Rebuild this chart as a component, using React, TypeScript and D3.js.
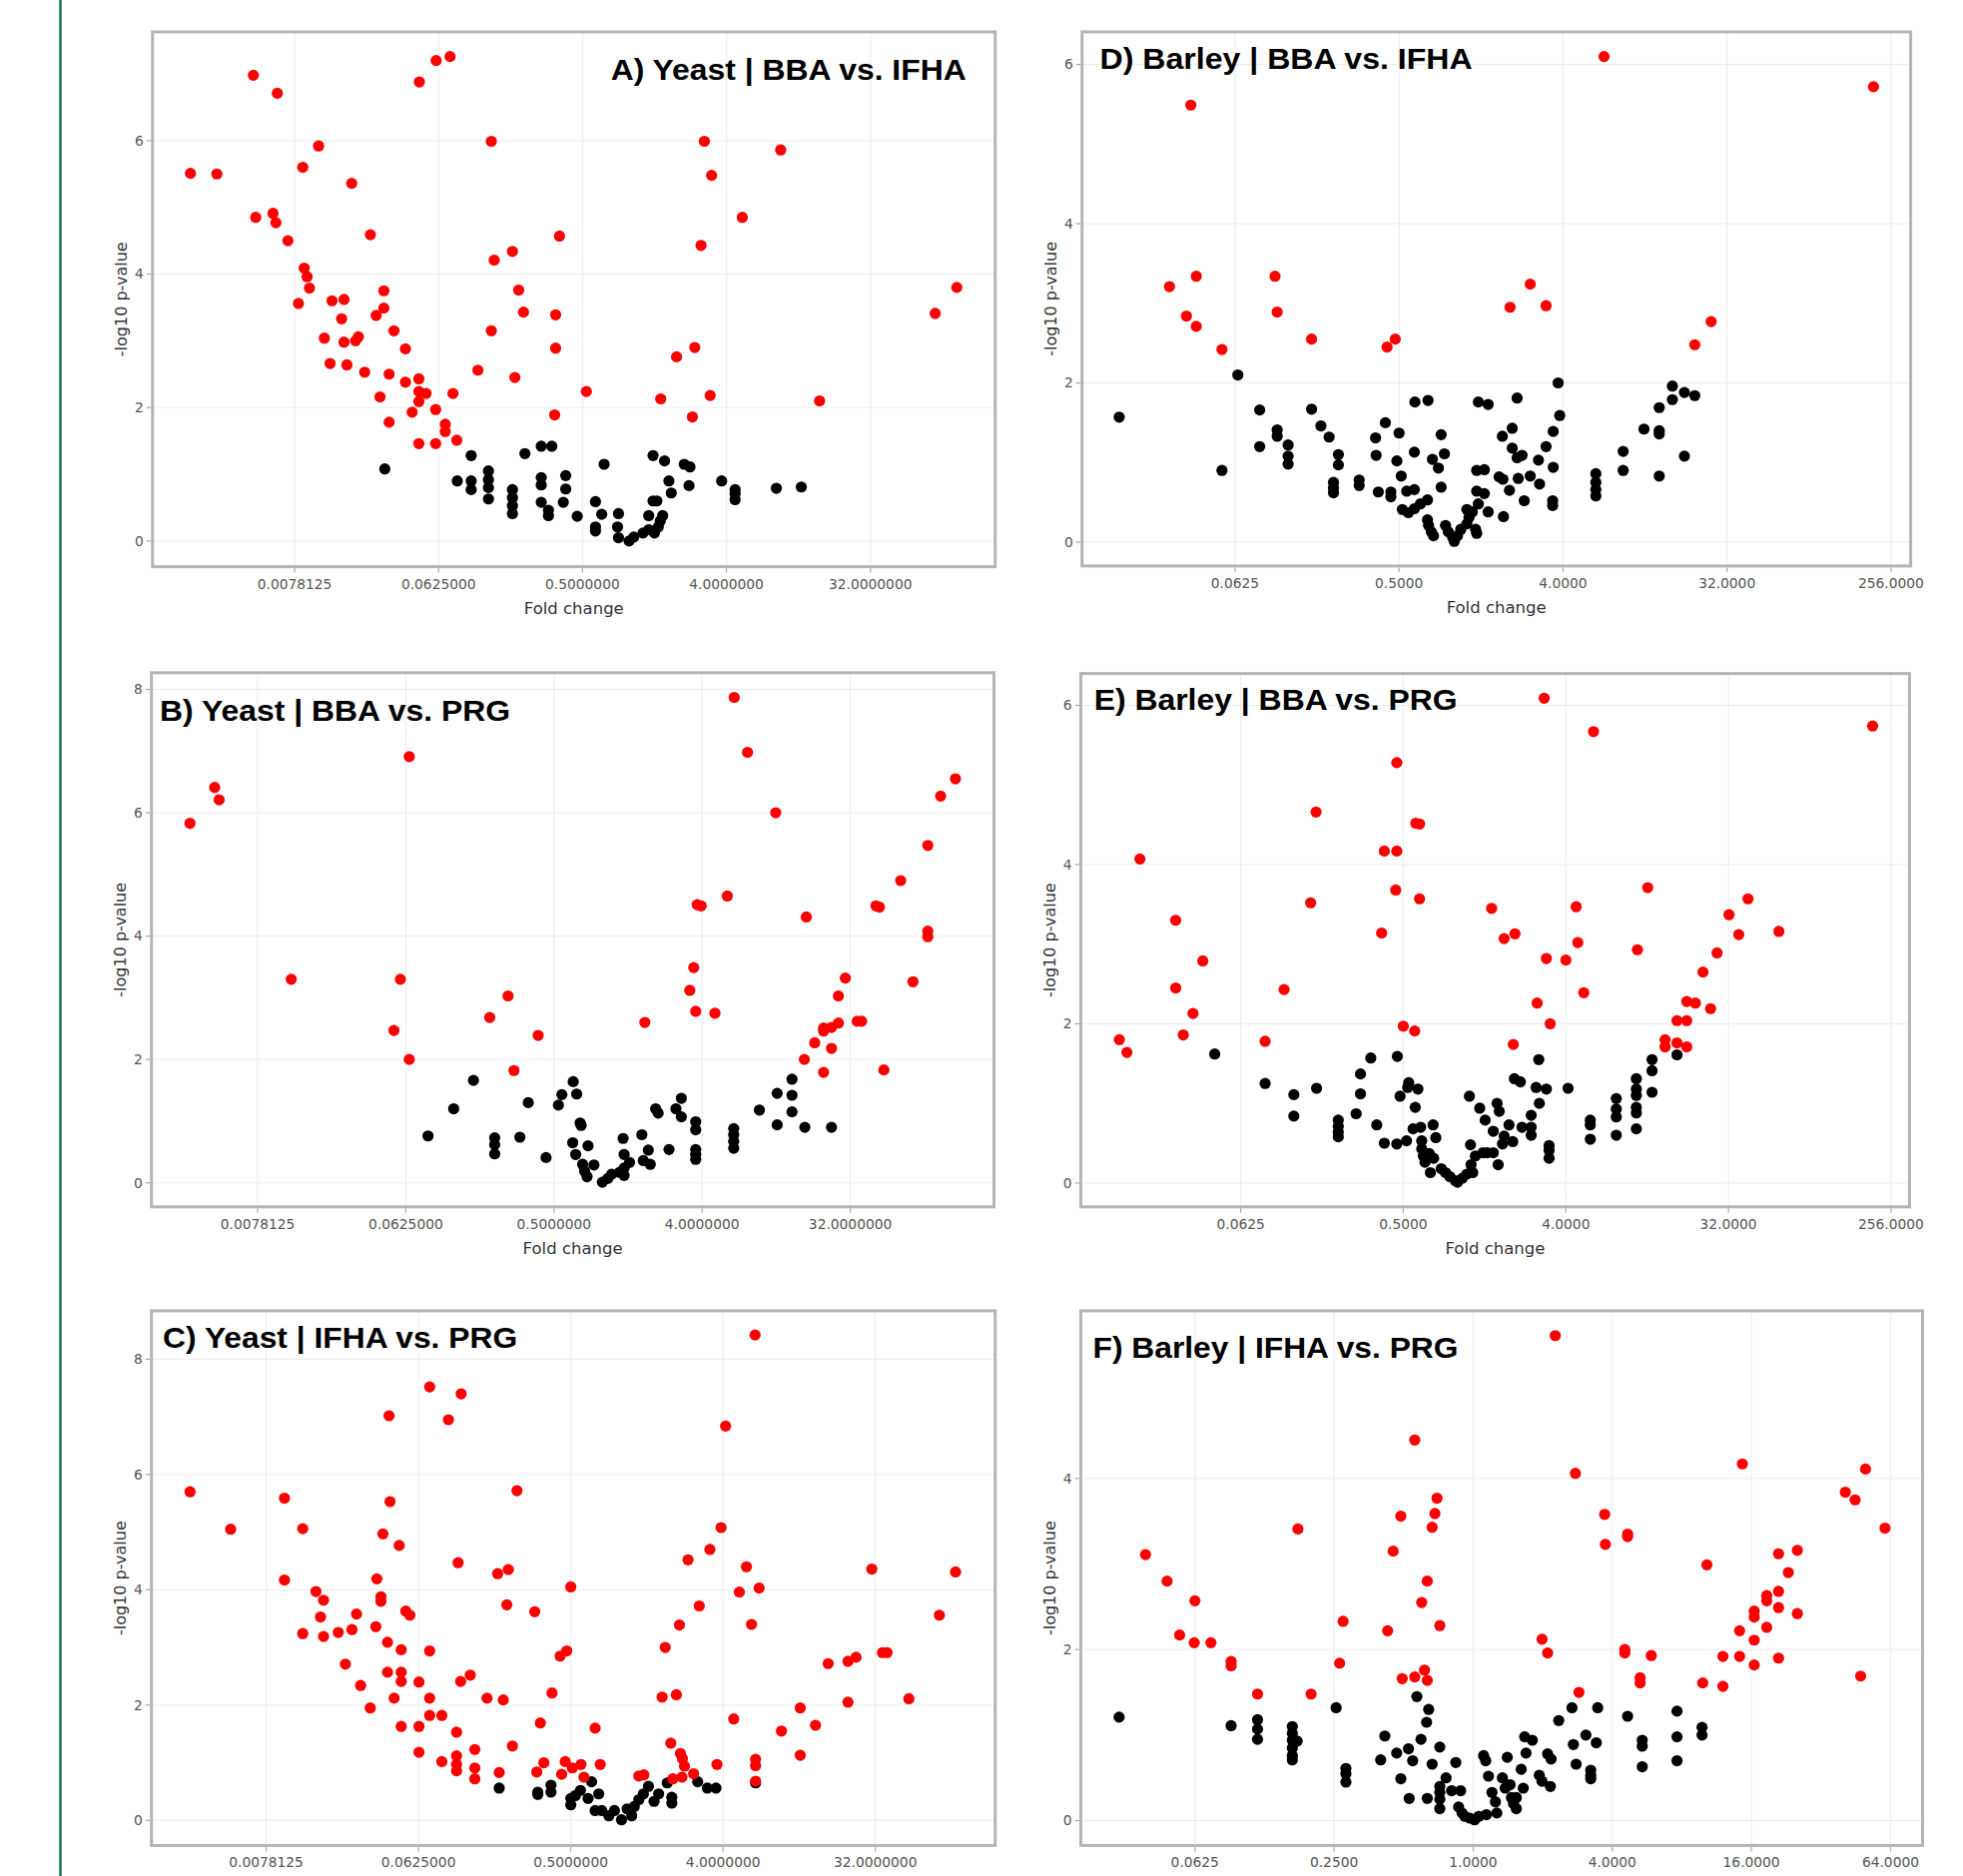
import React from "react";
import * as d3 from "d3";

// ---------- tick labels ----------
const yeastTicks = [0.0078125, 0.0625, 0.5, 4, 32];
const yeastTickLabels = ["0.0078125", "0.0625000", "0.5000000", "4.0000000", "32.0000000"];
const barleyTicks = [0.0625, 0.5, 4, 32, 256];
const barleyTickLabels = ["0.0625", "0.5000", "4.0000", "32.0000", "256.0000"];
const barleyFTicks = [0.0625, 0.25, 1, 4, 16, 64];
const barleyFTickLabels = ["0.0625", "0.2500", "1.0000", "4.0000", "16.0000", "64.0000"];
const yTicksTo6 = [0, 2, 4, 6];
const yTicksTo8 = [0, 2, 4, 6, 8];
const yTicksTo4 = [0, 2, 4];

const panelTitles = [
  "A) Yeast | BBA vs. IFHA",
  "D) Barley | BBA vs. IFHA",
  "B) Yeast | BBA vs. PRG",
  "E) Barley | BBA vs. PRG",
  "C) Yeast | IFHA vs. PRG",
  "F) Barley | IFHA vs. PRG",
];

// ---------- data: [log2 fold change, -log10 p-value] ----------
const aSig = [[-9.17,5.51],[-8.62,5.50],[-7.86,6.98],[-7.36,6.71],[-7.81,4.85],[-7.45,4.91],[-7.39,4.77],[-7.14,4.50],[-6.50,5.92],[-6.83,5.60],[-5.81,5.36],[-6.80,4.09],[-6.74,3.96],[-6.69,3.79],[-6.92,3.56],[-6.22,3.60],[-5.97,3.62],[-6.02,3.33],[-6.38,3.04],[-5.97,2.98],[-5.73,3.00],[-5.67,3.06],[-6.26,2.66],[-5.91,2.64],[-5.54,2.53],[-5.42,4.59],[-5.14,3.75],[-5.14,3.49],[-5.30,3.38],[-4.93,3.15],[-4.69,2.88],[-5.03,2.50],[-5.22,2.16],[-5.03,1.78],[-4.69,2.38],[-4.41,2.43],[-4.41,2.24],[-4.26,2.21],[-4.41,2.09],[-4.55,1.93],[-4.06,1.97],[-3.70,2.21],[-4.41,1.46],[-4.06,1.46],[-3.86,1.75],[-3.86,1.64],[-3.62,1.51],[-4.40,6.88],[-4.05,7.20],[-3.76,7.26],[-2.90,5.99],[-2.84,4.21],[-2.46,4.34],[-2.33,3.76],[-2.23,3.43],[-2.90,3.15],[-3.18,2.56],[-2.41,2.45],[-1.56,3.39],[-1.56,2.89],[-1.58,1.89],[-1.48,4.57],[-0.92,2.24],[1.54,5.99],[1.69,5.48],[1.47,4.43],[2.33,4.85],[3.13,5.86],[1.34,2.90],[0.96,2.76],[0.63,2.13],[1.66,2.18],[1.29,1.86],[3.94,2.10],[6.35,3.41],[6.80,3.80]];
const aNs = [[-5.12,1.08],[-3.32,1.28],[-3.61,0.90],[-3.32,0.90],[-3.32,0.77],[-2.96,1.05],[-2.96,0.92],[-2.96,0.80],[-2.96,0.63],[-2.46,0.77],[-2.46,0.65],[-2.46,0.53],[-2.46,0.41],[-2.20,1.31],[-1.86,1.42],[-1.64,1.42],[-1.86,0.95],[-1.86,0.84],[-1.86,0.58],[-1.71,0.46],[-1.71,0.38],[-1.40,0.58],[-1.35,0.98],[-1.35,0.78],[-1.11,0.37],[-0.73,0.59],[-0.73,0.21],[-0.73,0.15],[-0.60,0.40],[-0.55,1.15],[-0.27,0.21],[-0.25,0.41],[-0.25,0.05],[-0.03,0.00],[0.07,0.06],[0.26,0.12],[0.38,0.17],[0.38,0.38],[0.47,0.60],[0.55,0.60],[0.47,1.28],[0.71,1.20],[0.80,0.90],[0.50,0.12],[0.58,0.21],[0.62,0.30],[0.67,0.38],[0.85,0.72],[1.12,1.15],[1.24,1.11],[1.22,0.83],[1.90,0.90],[2.18,0.77],[2.18,0.71],[2.18,0.62],[3.04,0.79],[3.56,0.81]];

const dSig = [[-4.81,5.49],[2.75,6.10],[7.68,5.72],[-5.20,3.21],[-4.71,3.34],[-4.89,2.84],[-4.71,2.71],[-4.24,2.42],[-3.27,3.34],[-3.23,2.89],[-2.60,2.55],[-1.22,2.45],[-1.07,2.55],[1.03,2.95],[1.40,3.24],[1.69,2.97],[4.71,2.77],[4.41,2.48]];
const dNs = [[-6.12,1.57],[-3.95,2.10],[-4.24,0.90],[-3.55,1.66],[-3.55,1.20],[-3.23,1.41],[-3.23,1.33],[-3.03,1.22],[-3.03,1.08],[-3.03,0.98],[-2.60,1.67],[-2.43,1.46],[-2.28,1.32],[-2.11,1.10],[-2.11,0.97],[-2.20,0.75],[-2.20,0.68],[-2.20,0.62],[-1.73,0.78],[-1.73,0.71],[-1.43,1.31],[-1.42,1.09],[-1.38,0.63],[-1.25,1.50],[-1.15,0.63],[-1.15,0.57],[-1.00,1.37],[-1.04,1.02],[-0.96,0.83],[-0.86,0.64],[-0.72,1.13],[-0.71,1.76],[-0.47,1.78],[-0.94,0.41],[-0.83,0.37],[-0.72,0.42],[-0.61,0.48],[-0.72,0.66],[-0.48,0.53],[-0.39,1.04],[-0.28,0.93],[-0.23,1.35],[-0.17,1.11],[-0.23,0.69],[-0.48,0.28],[-0.46,0.21],[-0.41,0.13],[-0.37,0.08],[-0.15,0.21],[-0.10,0.13],[-0.02,0.06],[0.01,0.01],[0.07,0.08],[0.13,0.16],[0.24,0.23],[0.28,0.31],[0.34,0.38],[0.40,0.16],[0.42,0.11],[0.24,0.41],[0.42,0.90],[0.56,0.91],[0.42,0.64],[0.56,0.61],[0.45,0.48],[0.63,0.38],[0.45,1.76],[0.63,1.73],[0.91,0.32],[0.83,0.82],[0.90,0.79],[0.89,1.33],[1.02,0.65],[1.07,1.43],[1.07,1.18],[1.16,1.81],[1.16,1.06],[1.25,1.09],[1.18,0.80],[1.29,0.52],[1.40,0.83],[1.55,1.03],[1.57,0.73],[1.69,1.20],[1.82,1.39],[1.82,0.94],[1.81,0.52],[1.81,0.46],[1.91,2.00],[1.94,1.59],[2.60,0.86],[2.60,0.75],[2.60,0.66],[2.60,0.58],[3.10,1.14],[3.10,0.90],[3.48,1.42],[3.76,1.69],[3.76,1.40],[3.76,1.36],[3.76,0.83],[4.00,1.96],[4.00,1.79],[4.22,1.88],[4.41,1.84],[4.22,1.08]];

const bSig = [[-8.37,5.83],[-7.87,6.41],[-7.78,6.21],[-6.32,3.30],[-3.93,6.91],[-4.11,3.30],[-4.24,2.47],[-3.93,2.00],[-2.30,2.68],[-1.93,3.03],[-1.32,2.39],[-1.81,1.82],[0.84,2.60],[1.83,3.49],[1.75,3.12],[1.87,2.78],[2.26,2.75],[1.90,4.51],[1.98,4.49],[2.51,4.65],[2.65,7.87],[2.92,6.98],[3.49,6.00],[4.11,4.31],[4.07,2.00],[4.28,2.27],[4.46,1.79],[4.46,2.51],[4.46,2.46],[4.62,2.52],[4.62,2.18],[4.76,2.59],[4.76,3.03],[4.90,3.32],[5.14,2.62],[5.23,2.62],[5.52,4.49],[5.59,4.47],[5.68,1.83],[6.02,4.90],[6.27,3.26],[6.57,5.47],[6.57,4.08],[6.57,3.99],[6.83,6.27],[7.13,6.55]];
const bNs = [[-3.55,0.76],[-3.03,1.20],[-2.63,1.66],[-2.20,0.73],[-2.20,0.62],[-2.20,0.47],[-1.69,0.74],[-1.52,1.30],[-1.16,0.41],[-0.91,1.26],[-0.84,1.43],[-0.61,1.64],[-0.54,1.44],[-0.47,0.97],[-0.45,0.93],[-0.62,0.65],[-0.56,0.46],[-0.31,0.60],[-0.42,0.30],[-0.38,0.19],[-0.33,0.10],[-0.19,0.29],[-0.02,0.01],[0.09,0.07],[0.17,0.14],[0.33,0.17],[0.42,0.12],[0.42,0.24],[0.40,0.72],[0.42,0.46],[0.53,0.33],[0.78,0.78],[0.81,0.36],[0.91,0.53],[0.95,0.30],[1.06,1.20],[1.11,1.13],[1.33,0.54],[1.47,1.20],[1.58,1.37],[1.58,1.07],[1.87,0.99],[1.87,0.86],[1.87,0.54],[1.87,0.46],[1.87,0.38],[2.64,0.88],[2.64,0.78],[2.64,0.67],[2.64,0.56],[3.16,1.18],[3.52,1.45],[3.52,0.94],[3.82,1.68],[3.82,1.42],[3.82,1.15],[4.08,0.90],[4.62,0.90]];

const eSig = [[-6.24,1.80],[-6.10,1.64],[-5.86,4.07],[-5.20,3.30],[-5.20,2.45],[-4.70,2.79],[-4.88,2.13],[-5.06,1.86],[-3.55,1.78],[-3.20,2.43],[-2.71,3.52],[-2.61,4.66],[-1.40,3.14],[-1.35,4.17],[-1.12,4.17],[-1.14,3.68],[-1.12,5.28],[-0.77,4.52],[-0.70,4.51],[-0.70,3.57],[-1.00,1.97],[-0.79,1.91],[0.63,3.45],[0.86,3.07],[1.06,3.13],[1.03,1.74],[1.47,2.26],[1.64,2.82],[1.71,2.00],[1.60,6.09],[2.00,2.80],[2.19,3.47],[2.22,3.02],[2.33,2.39],[2.51,5.67],[3.32,2.93],[3.51,3.71],[3.83,1.80],[3.83,1.71],[4.05,2.04],[4.05,1.76],[4.23,2.04],[4.23,1.71],[4.23,2.28],[4.39,2.26],[4.53,2.65],[4.67,2.19],[4.79,2.89],[5.01,3.37],[5.19,3.12],[5.36,3.57],[5.93,3.16],[7.66,5.74]];
const eNs = [[-4.48,1.62],[-3.55,1.25],[-3.02,1.11],[-3.02,0.84],[-2.60,1.19],[-2.20,0.79],[-2.20,0.71],[-2.20,0.64],[-2.20,0.58],[-1.87,0.87],[-1.79,1.37],[-1.79,1.12],[-1.60,1.57],[-1.49,0.73],[-1.35,0.50],[-1.11,1.59],[-1.12,0.49],[-1.06,1.09],[-0.94,0.53],[-0.92,1.20],[-0.90,1.26],[-0.78,0.95],[-0.73,1.18],[-0.82,0.68],[-0.68,0.70],[-0.66,0.53],[-0.66,0.43],[-0.63,0.34],[-0.60,0.26],[-0.52,0.37],[-0.44,0.31],[-0.45,0.73],[-0.40,0.57],[-0.50,0.13],[-0.30,0.18],[-0.22,0.13],[-0.14,0.08],[-0.04,0.03],[0.00,0.01],[0.09,0.06],[0.17,0.11],[0.24,0.48],[0.22,1.09],[0.25,0.23],[0.28,0.13],[0.33,0.34],[0.41,0.94],[0.47,0.38],[0.51,0.79],[0.55,0.38],[0.66,0.65],[0.66,0.38],[0.73,1.00],[0.77,0.90],[0.75,0.23],[0.83,0.49],[0.86,0.59],[0.95,0.73],[1.02,0.52],[1.05,1.31],[1.16,1.27],[1.19,0.70],[1.36,0.85],[1.36,0.70],[1.36,0.60],[1.45,1.20],[1.50,1.55],[1.51,1.00],[1.64,1.18],[1.69,0.47],[1.69,0.41],[1.69,0.31],[2.04,1.19],[2.45,0.79],[2.45,0.73],[2.45,0.55],[2.93,1.06],[2.93,0.93],[2.93,0.83],[2.93,0.60],[3.30,1.31],[3.30,1.18],[3.30,1.10],[3.30,0.95],[3.30,0.88],[3.30,0.68],[3.59,1.55],[3.59,1.41],[3.59,1.14],[4.05,1.61]];

const cSig = [[-8.50,5.70],[-7.70,5.05],[-6.64,5.59],[-6.64,4.17],[-6.28,5.06],[-6.28,3.24],[-6.02,3.97],[-5.87,3.82],[-5.93,3.53],[-5.87,3.19],[-5.58,3.26],[-5.31,3.31],[-5.22,3.58],[-5.44,2.71],[-5.14,2.34],[-4.95,1.95],[-4.84,3.36],[-4.82,4.19],[-4.74,3.88],[-4.74,3.80],[-4.70,4.97],[-4.61,3.09],[-4.61,2.57],[-4.58,7.02],[-4.56,5.53],[-4.48,2.12],[-4.38,4.77],[-4.34,2.96],[-4.34,2.57],[-4.34,2.41],[-4.34,1.63],[-4.25,3.63],[-4.17,3.56],[-3.99,2.40],[-3.99,1.63],[-3.99,1.18],[-3.78,7.52],[-3.78,2.94],[-3.78,2.12],[-3.78,1.82],[-3.54,1.82],[-3.54,1.02],[-3.41,6.95],[-3.16,7.40],[-3.25,1.53],[-3.25,1.12],[-3.25,0.97],[-3.25,0.86],[-3.22,4.47],[-3.17,2.41],[-2.98,2.52],[-2.89,1.23],[-2.89,0.91],[-2.89,0.72],[-2.65,2.12],[-2.44,4.28],[-2.23,4.35],[-2.26,3.74],[-2.33,2.09],[-2.41,0.83],[-2.15,1.29],[-2.06,5.72],[-1.71,3.62],[-1.60,1.69],[-1.67,0.84],[-1.53,1.00],[-1.37,2.21],[-1.21,2.85],[-1.08,2.94],[-1.11,1.02],[-1.18,0.80],[-1.00,4.05],[-0.97,0.91],[-0.80,0.97],[-0.74,0.75],[-0.52,1.60],[-0.42,0.97],[0.34,0.77],[0.44,0.79],[0.80,2.14],[0.86,3.00],[1.08,2.18],[1.14,3.39],[0.97,1.34],[1.01,0.72],[1.16,1.16],[1.20,1.07],[1.24,0.94],[1.19,0.75],[1.31,4.52],[1.53,3.72],[1.42,0.81],[1.74,4.70],[1.88,0.97],[1.96,5.08],[2.05,6.84],[2.21,1.76],[2.32,3.96],[2.46,4.40],[2.56,3.40],[2.63,8.42],[2.71,4.03],[2.64,1.06],[2.64,0.95],[2.64,0.68],[3.15,1.55],[3.52,1.95],[3.52,1.13],[3.82,1.65],[4.07,2.72],[4.46,2.76],[4.62,2.83],[4.46,2.05],[4.93,4.36],[5.14,2.91],[5.23,2.91],[5.66,2.11],[6.26,3.56],[6.58,4.31]];
const cNs = [[-2.41,0.56],[-1.65,0.49],[-1.65,0.45],[-1.39,0.61],[-1.39,0.49],[-1.00,0.38],[-1.00,0.27],[-0.91,0.43],[-0.81,0.52],[-0.66,0.38],[-0.59,0.67],[-0.52,0.17],[-0.45,0.46],[-0.39,0.17],[-0.25,0.08],[-0.14,0.17],[0.00,0.01],[0.11,0.20],[0.20,0.08],[0.25,0.24],[0.34,0.36],[0.43,0.46],[0.53,0.59],[0.64,0.33],[0.73,0.46],[0.99,0.30],[0.99,0.40],[0.90,0.65],[1.50,0.67],[1.69,0.56],[1.86,0.56],[2.64,0.65]];

const fSig = [[-4.71,3.11],[-4.40,2.80],[-4.00,2.57],[-4.22,2.17],[-4.01,2.08],[-3.77,2.08],[-3.48,1.86],[-3.48,1.81],[-3.10,1.48],[-2.52,3.41],[-2.33,1.48],[-1.92,1.84],[-1.87,2.33],[-1.23,2.22],[-1.15,3.15],[-1.04,3.56],[-1.02,1.66],[-0.84,4.45],[-0.84,1.68],[-0.74,2.55],[-0.66,2.80],[-0.70,1.76],[-0.66,1.64],[-0.59,3.43],[-0.55,3.59],[-0.52,3.77],[-0.48,2.28],[1.18,5.67],[0.99,2.12],[1.07,1.96],[1.47,4.06],[1.52,1.50],[1.89,3.58],[1.90,3.23],[2.22,3.35],[2.22,3.32],[2.18,2.00],[2.18,1.96],[2.40,1.67],[2.40,1.61],[2.56,1.93],[3.30,1.61],[3.36,2.99],[3.59,1.92],[3.59,1.57],[3.83,1.92],[3.83,2.22],[3.87,4.17],[4.04,2.45],[4.04,2.38],[4.04,2.11],[4.04,1.82],[4.22,2.63],[4.22,2.57],[4.22,2.26],[4.39,3.12],[4.39,2.68],[4.39,2.49],[4.39,1.90],[4.53,2.90],[4.66,3.16],[4.66,2.42],[5.35,3.84],[5.49,3.75],[5.64,4.11],[5.57,1.69],[5.92,3.42]];
const fNs = [[-5.09,1.21],[-3.48,1.11],[-3.10,1.18],[-3.10,1.07],[-3.10,0.95],[-2.60,1.10],[-2.60,1.02],[-2.60,0.94],[-2.60,0.85],[-2.60,0.76],[-2.60,0.71],[-2.53,0.93],[-1.97,1.32],[-1.83,0.61],[-1.83,0.55],[-1.83,0.45],[-1.33,0.71],[-1.27,0.99],[-1.10,0.79],[-1.04,0.49],[-0.93,0.84],[-0.92,0.26],[-0.87,0.70],[-0.81,1.45],[-0.75,0.95],[-0.66,0.26],[-0.64,1.30],[-0.67,1.15],[-0.59,0.66],[-0.48,0.86],[-0.48,0.40],[-0.48,0.33],[-0.48,0.25],[-0.48,0.14],[-0.39,0.50],[-0.31,0.35],[-0.25,0.68],[-0.18,0.35],[-0.21,0.16],[-0.16,0.09],[-0.12,0.05],[-0.05,0.03],[0.02,0.01],[0.08,0.05],[0.19,0.07],[0.15,0.76],[0.18,0.70],[0.22,0.52],[0.27,0.33],[0.32,0.22],[0.34,0.09],[0.42,0.50],[0.46,0.38],[0.49,0.74],[0.53,0.42],[0.55,0.27],[0.58,0.20],[0.62,0.14],[0.62,0.27],[0.69,0.60],[0.72,0.38],[0.76,0.79],[0.74,0.98],[0.85,0.94],[0.95,0.53],[0.99,0.46],[1.11,0.40],[1.07,0.78],[1.12,0.72],[1.23,1.17],[1.42,1.32],[1.44,0.89],[1.48,0.66],[1.62,1.00],[1.69,0.59],[1.69,0.53],[1.69,0.49],[1.77,0.91],[1.79,1.32],[2.22,1.22],[2.43,0.94],[2.43,0.87],[2.43,0.63],[2.93,1.28],[2.93,0.98],[2.93,0.70],[3.29,1.09],[3.29,1.00]];

// ---------- layout ----------
type Panel = {
  title: string; sig: number[][]; ns: number[][];
  box: [number, number, number, number];
  xDom: [number, number]; yDom: [number, number];
  xTicks: number[]; xLabels: string[]; yTicks: number[];
  titleX: number; titleY: number; titleW: number;
  showXTitle: boolean;
};

const panels: Panel[] = [
  { title: panelTitles[0], sig: aSig, ns: aNs, box: [152.8, 31.9, 996.7, 567.6], xDom: [-9.96, 7.60], yDom: [-0.385, 7.63], xTicks: yeastTicks, xLabels: yeastTickLabels, yTicks: yTicksTo6, titleX: 611.7, titleY: 79.5, titleW: 356, showXTitle: true },
  { title: panelTitles[1], sig: dSig, ns: dNs, box: [1083.7, 31.9, 1913.6, 566.9], xDom: [-6.80, 8.36], yDom: [-0.30, 6.41], xTicks: barleyTicks, xLabels: barleyTickLabels, yTicks: yTicksTo6, titleX: 1101.6, titleY: 69.4, titleW: 373, showXTitle: true },
  { title: panelTitles[2], sig: bSig, ns: bNs, box: [151.7, 673.8, 995.5, 1208.8], xDom: [-9.15, 7.91], yDom: [-0.39, 8.27], xTicks: yeastTicks, xLabels: yeastTickLabels, yTicks: yTicksTo8, titleX: 160, titleY: 721.7, titleW: 351, showXTitle: true },
  { title: panelTitles[3], sig: eSig, ns: eNs, box: [1082.5, 674.6, 1912.4, 1208.8], xDom: [-6.95, 8.34], yDom: [-0.30, 6.40], xTicks: barleyTicks, xLabels: barleyTickLabels, yTicks: yTicksTo6, titleX: 1095.7, titleY: 711.4, titleW: 364, showXTitle: true },
  { title: panelTitles[4], sig: cSig, ns: cNs, box: [151.7, 1312.9, 996.7, 1848.4], xDom: [-9.26, 7.36], yDom: [-0.435, 8.84], xTicks: yeastTicks, xLabels: yeastTickLabels, yTicks: yTicksTo8, titleX: 163.1, titleY: 1349.9, titleW: 355, showXTitle: false },
  { title: panelTitles[5], sig: fSig, ns: fNs, box: [1082.5, 1312.9, 1925.5, 1848.4], xDom: [-5.64, 6.46], yDom: [-0.29, 5.96], xTicks: barleyFTicks, xLabels: barleyFTickLabels, yTicks: yTicksTo4, titleX: 1094.5, titleY: 1359.8, titleW: 366, showXTitle: false },
];

const FONT = "'DejaVu Sans', Verdana, sans-serif";

function VolcanoPanel({ p }: { p: Panel }) {
  const [x0, y0, x1, y1] = p.box;
  const x = d3.scaleLinear().domain(p.xDom).range([x0, x1]);
  const y = d3.scaleLinear().domain(p.yDom).range([y1, y0]);
  const clipId = "clip-" + p.title.charAt(0);
  return (
    <g>
      <defs>
        <clipPath id={clipId}>
          <rect x={x0} y={y0} width={x1 - x0} height={y1 - y0} />
        </clipPath>
      </defs>
      {p.xTicks.map((t, i) => (
        <line key={"gx" + i} x1={x(Math.log2(t))} x2={x(Math.log2(t))} y1={y0} y2={y1} stroke="#ececec" strokeWidth={1} />
      ))}
      {p.yTicks.map((t, i) => (
        <line key={"gy" + i} x1={x0} x2={x1} y1={y(t)} y2={y(t)} stroke="#ececec" strokeWidth={1} />
      ))}
      <g clipPath={`url(#${clipId})`}>
        {p.ns.map((d, i) => (
          <circle key={"n" + i} cx={x(d[0])} cy={y(d[1])} r={5.6} fill="#000000" />
        ))}
        {p.sig.map((d, i) => (
          <circle key={"s" + i} cx={x(d[0])} cy={y(d[1])} r={5.6} fill="#ff0000" />
        ))}
      </g>
      <rect x={x0} y={y0} width={x1 - x0} height={y1 - y0} fill="none" stroke="#b4b4b4" strokeWidth={3} />
      {p.xTicks.map((t, i) => (
        <g key={"xt" + i}>
          <line x1={x(Math.log2(t))} x2={x(Math.log2(t))} y1={y1 + 1.5} y2={y1 + 6} stroke="#aaaaaa" strokeWidth={1.2} />
          <text x={x(Math.log2(t))} y={y1 + 22} textAnchor="middle" fontFamily={FONT} fontSize={13.8} fill="#555555">{p.xLabels[i]}</text>
        </g>
      ))}
      {p.yTicks.map((t, i) => (
        <g key={"yt" + i}>
          <line x1={x0 - 6} x2={x0 - 1.5} y1={y(t)} y2={y(t)} stroke="#aaaaaa" strokeWidth={1.2} />
          <text x={x0 - 9} y={y(t)} dy="0.35em" textAnchor="end" fontFamily={FONT} fontSize={13.8} fill="#555555">{t}</text>
        </g>
      ))}
      {p.showXTitle && (
        <text x={(x0 + x1) / 2} y={y1 + 47} textAnchor="middle" fontFamily={FONT} fontSize={16.5} fill="#333333">Fold change</text>
      )}
      <text transform={`translate(${x0 - 31},${(y0 + y1) / 2}) rotate(-90)`} textAnchor="middle" dy="0.35em" fontFamily={FONT} fontSize={16} fill="#333333">-log10 p-value</text>
      <text x={p.titleX} y={p.titleY} fontFamily="'Liberation Sans', Arial, sans-serif" fontWeight="bold" fontSize={30} fill="#000000" textLength={p.titleW} lengthAdjust="spacingAndGlyphs">{p.title}</text>
    </g>
  );
}

export default function App() {
  return (
    <div style={{ position: "absolute", left: 0, top: 0 }}>
      <svg width={1966} height={1879} viewBox="0 0 1966 1879" style={{ display: "block", background: "#ffffff" }}>
        <rect x={0} y={0} width={1966} height={1879} fill="#ffffff" />
        <line x1={60.5} x2={60.5} y1={0} y2={1879} stroke="#16705e" strokeWidth={2.5} />
        {panels.map((p, i) => (
          <VolcanoPanel key={i} p={p} />
        ))}
      </svg>
    </div>
  );
}
